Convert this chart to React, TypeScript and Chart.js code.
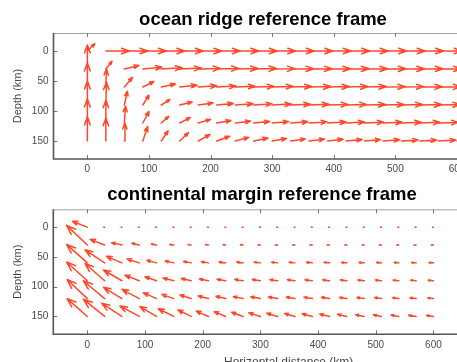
import React, { useEffect, useRef } from 'react';
import { Chart, registerables } from 'chart.js';

Chart.register(...registerables);

// grid of arrow tails
const xPositions = [0, 30, 60, 90, 120, 150, 180, 210, 240, 270, 300, 330, 360, 390, 420, 450, 480, 510, 540, 570, 600];
const depthRows = [0, 30, 60, 90, 120, 150];
const xTickValues = [0, 100, 200, 300, 400, 500, 600];
const yTickValues = [0, 50, 100, 150];

// ocean ridge reference frame: horizontal (u) and depth (w) components, km
const ridgeU0 = [12, 38, 38, 38, 38, 38, 38, 38, 38, 38, 38, 38, 38, 38, 38, 38, 38, 38, 38, 38, 38];
const ridgeW0 = [-12, 0, 0, 0, 0, 0, 0, 0, 0, 0, 0, 0, 0, 0, 0, 0, 0, 0, 0, 0, 0];
const ridgeU30 = [0, 10, 24, 31, 34, 35, 36, 36, 37, 37, 37, 37, 37, 37, 37, 37, 37, 37, 37, 37, 37];
const ridgeW30 = [-40, -13, -6, -3, -2, -1.5, -1, -1, -0.8, -0.7, -0.6, -0.5, -0.5, -0.4, -0.4, -0.4, -0.3, -0.3, -0.3, -0.3, -0.3];
const ridgeU60 = [0, 1, 13, 18, 23, 28, 30, 31, 32, 33, 34, 34, 35, 35, 35, 35, 36, 36, 36, 36, 36];
const ridgeW60 = [-40, -30, -16, -9, -5, -3, -2, -1.5, -1.2, -1, -1, -0.9, -0.8, -0.8, -0.7, -0.7, -0.6, -0.6, -0.5, -0.5, -0.5];
const ridgeU90 = [0, 1, 5, 10, 14, 20, 24, 27, 29, 30, 31, 32, 32, 33, 33, 34, 34, 34, 35, 35, 35];
const ridgeW90 = [-40, -38, -23, -16, -9, -5, -3.5, -2.5, -2, -1.8, -1.5, -1.3, -1.2, -1, -1, -0.9, -0.8, -0.8, -0.7, -0.7, -0.6];
const ridgeU120 = [0, 0, 2, 10, 12, 17, 20, 23, 25, 26, 27, 28, 29, 30, 30, 31, 31, 32, 32, 32, 33];
const ridgeW120 = [-40, -38, -28, -19, -11, -9, -6, -4, -3, -2.5, -2.2, -2, -1.8, -1.6, -1.5, -1.4, -1.3, -1.2, -1.1, -1, -1];
const ridgeU150 = [0, 0, 1, 8, 11, 14, 19, 21, 22, 23, 23, 24, 25, 25, 26, 26, 27, 27, 27, 28, 28];
const ridgeW150 = [-40, -38, -30, -24, -17, -14, -11, -8, -6, -5, -4, -3.5, -3, -2.8, -2.5, -2.2, -2, -1.8, -1.7, -1.6, -1.5];

// continental margin reference frame
const marginU0 = [-26, -1.5, -1.5, -1.5, -1.5, -1.5, -1.5, -1.5, -1.5, -1.5, -1.5, -1.5, -1.5, -1.5, -1.5, -1.5, -1.5, -1.5, -1.5, -1.5, -1.5];
const marginW0 = [-10, 0, 0, 0, 0, 0, 0, 0, 0, 0, 0, 0, 0, 0, 0, 0, 0, 0, 0, 0, 0];
const marginU30 = [-36, -25, -18, -13, -9, -7, -5.5, -5, -4.5, -4.5, -4, -4, -4, -4, -4, -3.5, -3.5, -3.5, -3.5, -3.5, -3.5];
const marginW30 = [-33, -9.5, -4, -3, -1.7, -1, -0.6, -0.5, -0.4, -0.3, -0.3, -0.2, -0.2, -0.2, -0.1, -0.1, -0.1, 0, 0, 0, 0];
const marginU60 = [-36, -34, -27, -21, -17, -15, -13, -12, -11.5, -11, -11, -10.5, -10, -10, -9.5, -9, -9, -8.5, -8, -8, -7.5];
const marginW60 = [-31, -22, -11, -6.6, -4.4, -3, -2.2, -1.8, -1.5, -1.3, -1.2, -1.1, -1, -0.9, -0.8, -0.7, -0.7, -0.6, -0.6, -0.5, -0.5];
const marginU90 = [-36, -34, -32, -25, -20, -18.5, -17, -16, -15, -14.5, -14, -13.5, -13, -12.5, -12, -11.5, -11, -10.5, -10, -9.5, -9];
const marginW90 = [-31.5, -29, -18, -9.4, -6.6, -4.5, -3.7, -3, -2.5, -2.2, -2, -1.8, -1.6, -1.5, -1.4, -1.3, -1.2, -1.1, -1, -0.9, -0.8];
const marginU120 = [-35, -37, -32, -30, -23, -21, -19.5, -18, -17, -17, -16.5, -16, -15, -14.5, -14, -13, -12.5, -12, -11, -10.5, -10];
const marginW120 = [-32, -30, -19, -15.5, -10, -7, -6, -4.5, -3.8, -3.3, -3, -2.7, -2.5, -2.3, -2.1, -1.9, -1.7, -1.6, -1.5, -1.3, -1.2];
const marginU150 = [-35, -37, -35, -33.5, -29, -27, -23, -21, -20, -20, -20, -19, -18, -17.5, -17, -16, -15, -14, -13.5, -13, -12];
const marginW150 = [-30, -29, -22, -17.7, -16.6, -13, -11, -9, -8, -7, -6, -5.5, -5, -4.5, -4, -3.5, -3, -2.7, -2.4, -2, -1.8];

const ridgeU = [ridgeU0, ridgeU30, ridgeU60, ridgeU90, ridgeU120, ridgeU150];
const ridgeW = [ridgeW0, ridgeW30, ridgeW60, ridgeW90, ridgeW120, ridgeW150];
const marginU = [marginU0, marginU30, marginU60, marginU90, marginU120, marginU150];
const marginW = [marginW0, marginW30, marginW60, marginW90, marginW120, marginW150];

const ARROW_COLOR = 'rgb(255,72,42)';
const FONT = 'Arial, "Liberation Sans", sans-serif';

function buildArrowDatasets(uRows: number[][], wRows: number[][]) {
  const sets: any[] = [];
  const a = 0.33;
  const b = 0.36;
  depthRows.forEach((d, r) => {
    xPositions.forEach((x, c) => {
      const u = uRows[r][c];
      const w = wRows[r][c];
      const tx = x + u;
      const ty = d + w;
      const h1 = { x: tx - a * (u + b * w), y: ty - a * (w - b * u) };
      const h2 = { x: tx - a * (u - b * w), y: ty - a * (w + b * u) };
      sets.push({
        data: [{ x, y: d }, { x: tx, y: ty }, h1, { x: tx, y: ty }, h2],
        showLine: true,
        borderColor: ARROW_COLOR,
        backgroundColor: ARROW_COLOR,
        borderWidth: 1.5,
        borderCapStyle: 'round',
        borderJoinStyle: 'round',
        pointRadius: 0,
        pointHoverRadius: 0,
        fill: false,
        tension: 0,
      });
    });
  });
  return sets;
}

const frameAxes = {
  id: 'frameAxes',
  afterDatasetsDraw(chart: any) {
    const { ctx, chartArea } = chart;
    const { left, top, right, bottom } = chartArea;
    const xs = chart.scales.x;
    const ys = chart.scales.y;
    ctx.save();
    ctx.lineWidth = 1;
    ctx.strokeStyle = '#a0a0a0';
    ctx.beginPath();
    ctx.moveTo(left, top + 0.5);
    ctx.lineTo(right, top + 0.5);
    ctx.stroke();
    ctx.strokeStyle = '#777';
    ctx.lineWidth = 1;
    ctx.beginPath();
    for (const v of xTickValues) {
      const px = Math.round(xs.getPixelForValue(v)) + 0.5;
      ctx.moveTo(px, bottom);
      ctx.lineTo(px, bottom - 4);
      ctx.moveTo(px, top);
      ctx.lineTo(px, top + 4);
    }
    for (const v of yTickValues) {
      const py = Math.round(ys.getPixelForValue(v)) + 0.5;
      ctx.moveTo(left, py);
      ctx.lineTo(left + 4, py);
    }
    ctx.stroke();
    ctx.strokeStyle = '#555';
    ctx.lineWidth = 1.6;
    ctx.beginPath();
    ctx.moveTo(left, top);
    ctx.lineTo(left, bottom);
    ctx.lineTo(right, bottom);
    ctx.stroke();
    ctx.restore();
  },
};

type PanelProps = {
  title: string;
  uRows: number[][];
  wRows: number[][];
  width: number;
  height: number;
  top: number;
  xMin: number;
  xMax: number;
  yAxisWidth: number;
  xAxisHeight: number;
  titlePad: { top: number; bottom: number };
  tickPadX: number;
  xTitle?: string;
  xTitlePad?: number;
};

function Panel(props: PanelProps) {
  const ref = useRef<HTMLCanvasElement | null>(null);
  useEffect(() => {
    if (!ref.current) return;
    const chart = new Chart(ref.current, {
      type: 'scatter',
      data: { datasets: buildArrowDatasets(props.uRows, props.wRows) },
      options: {
        animation: false,
        responsive: false,
        events: [],
        layout: { padding: 0 },
        plugins: {
          legend: { display: false },
          tooltip: { enabled: false },
          title: {
            display: true,
            text: props.title,
            color: '#000',
            font: { family: FONT, size: 18.5, weight: 'bold', lineHeight: 1.2 },
            padding: props.titlePad,
          },
        },
        scales: {
          x: {
            type: 'linear',
            min: props.xMin,
            max: props.xMax,
            grid: { display: false, drawTicks: false },
            border: { display: false },
            ticks: { color: '#4a4a4a', font: { family: FONT, size: 10 }, padding: props.tickPadX, maxRotation: 0 },
            afterBuildTicks: (s: any) => {
              s.ticks = xTickValues.map((v) => ({ value: v }));
            },
            afterFit: (s: any) => {
              s.height = props.xAxisHeight;
            },
            title: props.xTitle
              ? {
                  display: true,
                  text: props.xTitle,
                  color: '#4a4a4a',
                  font: { family: FONT, size: 12, lineHeight: 1.2 },
                  padding: { top: 0, bottom: props.xTitlePad ?? 0 },
                }
              : { display: false },
          },
          y: {
            type: 'linear',
            min: -30,
            max: 180,
            reverse: true,
            grid: { display: false, drawTicks: false },
            border: { display: false },
            ticks: { color: '#4a4a4a', font: { family: FONT, size: 10 }, padding: 5 },
            afterBuildTicks: (s: any) => {
              s.ticks = yTickValues.map((v) => ({ value: v }));
            },
            afterFit: (s: any) => {
              s.width = props.yAxisWidth;
            },
            title: {
              display: true,
              text: 'Depth (km)',
              color: '#4a4a4a',
              font: { family: FONT, size: 11, lineHeight: 1.2 },
              padding: { top: 11.7, bottom: 0 },
            },
          },
        },
      } as any,
      plugins: [frameAxes],
    });
    return () => chart.destroy();
  }, []);
  return (
    <canvas
      ref={ref}
      width={props.width}
      height={props.height}
      style={{ position: 'absolute', left: 0, top: props.top, width: props.width, height: props.height, display: 'block' }}
    />
  );
}

export default function App() {
  return (
    <div style={{ position: 'absolute', left: 0, top: 0, width: 457, height: 362, overflow: 'hidden', background: '#fff' }}>
      <Panel
        title="ocean ridge reference frame"
        uRows={ridgeU}
        wRows={ridgeW}
        width={526}
        height={180}
        top={0}
        xMin={-55}
        xMax={712}
        yAxisWidth={53.5}
        xAxisHeight={21}
        titlePad={{ top: 8.4, bottom: 2.4 }}
        tickPadX={3.9}
      />
      <Panel
        title="continental margin reference frame"
        uRows={marginU}
        wRows={marginW}
        width={524}
        height={190}
        top={180}
        xMin={-59}
        xMax={757}
        yAxisWidth={53.3}
        xAxisHeight={35.7}
        titlePad={{ top: 4.1, bottom: 3.0 }}
        tickPadX={4.5}
        xTitle="Horizontal distance (km)"
        xTitlePad={0.2}
      />
    </div>
  );
}
